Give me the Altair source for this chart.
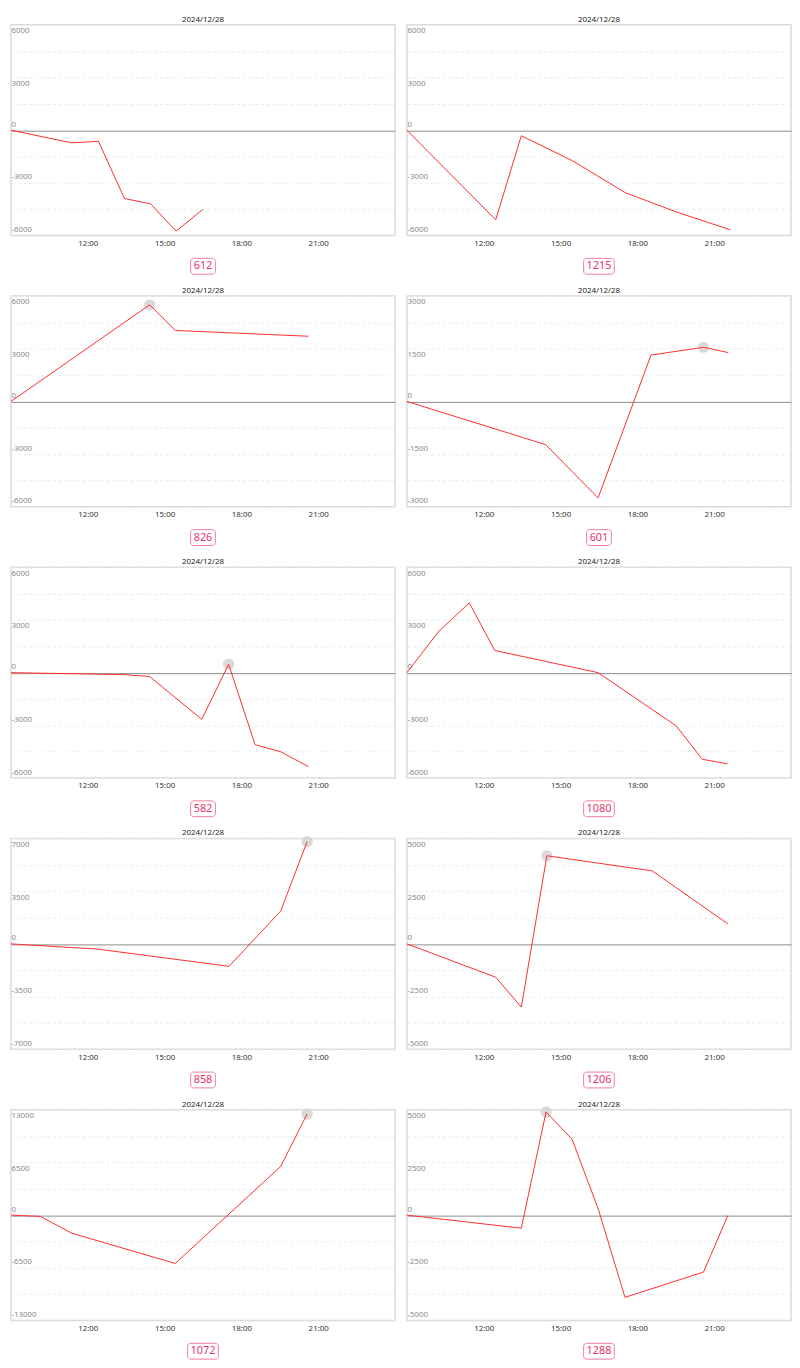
import altair as alt
import pandas as pd

date_label = "2024/12/28"
badges = ["612", "1215", "826", "601", "582", "1080", "858", "1206", "1072", "1288"]
y_max = [6000, 6000, 6000, 3000, 6000, 6000, 7000, 5000, 13000, 5000]

times = [
    ["09:00", "11:22", "12:25", "13:26", "14:27", "15:27", "16:29"],
    ["09:00", "12:28", "13:28", "15:28", "17:32", "19:33", "21:38"],
    ["09:00", "14:25", "15:25", "20:37"],
    ["09:00", "14:25", "16:28", "18:32", "20:35", "21:33"],
    ["09:00", "13:24", "14:25", "16:27", "17:30", "18:32", "19:32", "20:37"],
    ["09:00", "10:15", "11:26", "12:26", "16:28", "19:31", "20:32", "21:31"],
    ["09:00", "12:23", "17:31", "19:32", "20:34"],
    ["09:00", "12:28", "13:28", "14:28", "18:35", "21:32"],
    ["09:00", "10:09", "11:23", "15:25", "19:32", "20:34"],
    ["09:00", "13:28", "14:26", "15:27", "16:29", "17:31", "20:35", "21:32"],
]
values = [
    [0, -720, -630, -3890, -4190, -5740, -4520],
    [0, -5100, -315, -1740, -3560, -4670, -5670],
    [0, 5500, 4040, 3710],
    [0, -1230, -2745, 1320, 1540, 1390],
    [0, -110, -220, -2660, 480, -4100, -4500, -5350],
    [0, 2360, 3970, 1260, 0, -3030, -4930, -5190],
    [0, -345, -1490, 2180, 6790],
    [0, -1580, -3000, 4180, 3460, 950],
    [0, -160, -2240, -5960, 6000, 12480],
    [0, -620, 4890, 3600, 250, -3900, -2700, -15],
]
peak_index = [None, None, 1, 4, 4, None, 4, 3, 5, 2]
x_ticks = [12, 15, 18, 21]

W, H = 388, 213
FONT = "Noto Sans"


def to_hours(t):
    h, m = t.split(":")
    return int(h) + int(m) / 60.0


def panel(i):
    df = pd.DataFrame({"t": [to_hours(t) for t in times[i]], "v": values[i]})
    ym = y_max[i]
    q = ym / 4
    half = int(ym / 2)
    yvals = [-ym + k * q for k in range(9)]

    x = alt.X(
        "t:Q",
        scale=alt.Scale(domain=[9, 24], nice=False, zero=False),
        axis=alt.Axis(
            values=x_ticks,
            labelExpr="datum.value + ':00'",
            grid=False,
            ticks=False,
            domain=False,
            labelPadding=4,
            labelFontSize=8,
            labelColor="#333333",
            labelFlush=False,
            title=None,
        ),
    )
    y = alt.Y(
        "v:Q",
        scale=alt.Scale(domain=[-ym, ym], nice=False, zero=False),
        axis=alt.Axis(
            values=yvals,
            labelExpr=f"datum.value % {half} === 0 ? '' + datum.value : ''",
            labelAlign="left",
            labelPadding=0,
            ticks=False,
            tickSize=0,
            domain=False,
            labelColor="#8a8a8a",
            labelFontSize=8,
            labelOverlap=False,
            labelBaseline={"condition": {"test": "datum.value > 0", "value": "top"}, "value": "bottom"},
            labelOffset={"condition": {"test": "datum.value > 0", "value": 2}, "value": -2},
            grid=True,
            gridColor={"condition": {"test": "datum.value === 0", "value": "#8c8c8c"}, "value": "#ececec"},
            gridDash={"condition": {"test": "datum.value === 0", "value": []}, "value": [3, 3]},
            title=None,
        ),
    )

    layers = []
    if peak_index[i] is not None:
        pk = df.iloc[[peak_index[i]]]
        layers.append(
            alt.Chart(pk).mark_circle(size=130, color="#d4d4d4", opacity=0.85).encode(x=x, y=y)
        )
    layers.append(alt.Chart(df).mark_line(color="#ff2d2d", strokeWidth=1).encode(x=x, y=y))

    badge_df = pd.DataFrame({"label": [badges[i]], "title": [date_label]})
    bw = 7 + 6 * len(badges[i])
    rect = alt.Chart(badge_df).mark_rect(
        fill="white", stroke="#f27d9d", strokeWidth=1, cornerRadius=3
    ).encode(
        x=alt.value(W / 2 - bw / 2),
        x2=alt.value(W / 2 + bw / 2),
        y=alt.value(H + 23),
        y2=alt.value(H + 39),
    )
    text = alt.Chart(badge_df).mark_text(
        color="#e8346b", fontSize=11, baseline="middle", align="center", font=FONT
    ).encode(x=alt.value(W / 2), y=alt.value(H + 31), text="label:N")
    title = alt.Chart(badge_df).mark_text(
        color="#222222", fontSize=8, baseline="middle", align="center", font=FONT
    ).encode(x=alt.value(W / 2), y=alt.value(-5), text="title:N")

    return alt.layer(*layers, rect, text, title).properties(width=W, height=H)


rows = [alt.hconcat(panel(2 * r), panel(2 * r + 1), spacing=8) for r in range(5)]
chart = (
    alt.vconcat(*rows, spacing=10)
    .properties(padding={"top": 0, "left": 0, "right": 0, "bottom": 0}, autosize=alt.AutoSizeParams(type="pad"))
    .configure(font=FONT, padding={"top": 0, "left": 0, "right": 0, "bottom": 0})
    .configure_view(stroke="#d9d9d9", strokeWidth=1.5)
)

chart.save("out.html", embed_options={"renderer": "svg", "actions": False})
